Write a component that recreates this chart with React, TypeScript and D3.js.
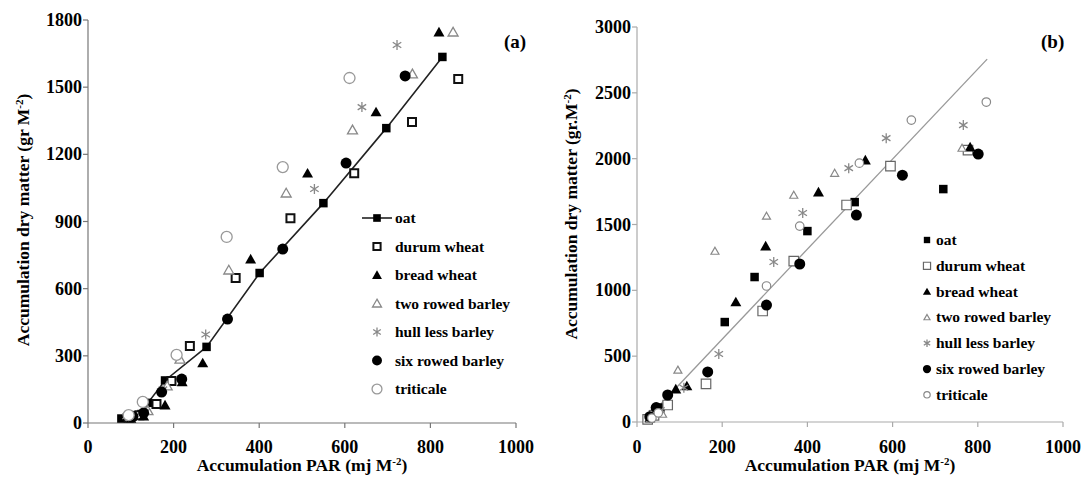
import React from 'react';
import * as d3 from 'd3';

// tick values
const xTicks = [0, 200, 400, 600, 800, 1000];
const yTicksA = [0, 300, 600, 900, 1200, 1500, 1800];
const yTicksB = [0, 500, 1000, 1500, 2000, 2500, 3000];

const speciesNames = ['oat', 'durum wheat', 'bread wheat', 'two rowed barley', 'hull less barley', 'six rowed barley', 'triticale'];

type Pt = [number, number];

// panel (a): [PAR, dry matter]
const oatA: Pt[] = [[78, 20], [100, 25], [125, 40], [140, 90], [180, 190], [277, 340], [401, 670], [550, 982], [697, 1317], [828, 1635]];
const durumA: Pt[] = [[95, 25], [120, 35], [160, 85], [195, 188], [238, 344], [345, 648], [473, 915], [622, 1116], [757, 1344], [865, 1536]];
const breadA: Pt[] = [[100, 20], [130, 30], [180, 80], [220, 183], [268, 268], [380, 732], [513, 1116], [673, 1389], [820, 1746]];
const twoRowA: Pt[] = [[100, 30], [140, 55], [185, 165], [215, 285], [329, 683], [463, 1027], [618, 1309], [758, 1559], [853, 1746]];
const hullLessA: Pt[] = [[90, 30], [135, 50], [175, 150], [275, 395], [529, 1045], [640, 1411], [722, 1688]];
const sixRowA: Pt[] = [[105, 30], [130, 45], [172, 138], [219, 196], [326, 464], [455, 777], [603, 1161], [741, 1550]];
const triticaleA: Pt[] = [[95, 35], [128, 94], [207, 304], [324, 831], [455, 1143], [611, 1541]];

// panel (b)
const oatB: Pt[] = [[25, 25], [40, 60], [55, 110], [206, 759], [276, 1101], [400, 1450], [511, 1670], [719, 1769]];
const durumB: Pt[] = [[25, 20], [40, 50], [72, 129], [162, 289], [295, 843], [368, 1222], [492, 1648], [595, 1944], [777, 2065]];
const breadB: Pt[] = [[30, 30], [50, 80], [91, 250], [117, 273], [232, 911], [302, 1336], [426, 1746], [536, 1989], [782, 2088]];
const twoRowB: Pt[] = [[30, 20], [60, 60], [96, 395], [183, 1298], [304, 1564], [368, 1723], [464, 1890], [763, 2080]];
const hullLessB: Pt[] = [[35, 40], [55, 90], [110, 260], [192, 516], [321, 1215], [389, 1587], [497, 1928], [585, 2156], [766, 2255]];
const sixRowB: Pt[] = [[30, 40], [45, 110], [72, 205], [166, 380], [304, 888], [382, 1200], [515, 1572], [623, 1875], [801, 2035]];
const triticaleB: Pt[] = [[35, 30], [50, 70], [304, 1033], [382, 1488], [522, 1966], [644, 2293], [820, 2430]];
const trendB: Pt[] = [[16, 0], [822, 2756]];

type Style = { shape: string; fill: string; stroke: string; sw: number; size: number };

const stylesA: Style[] = [
  { shape: 'square', fill: '#000', stroke: 'none', sw: 0, size: 8.5 },
  { shape: 'square', fill: '#fff', stroke: '#111', sw: 2, size: 8 },
  { shape: 'triangle', fill: '#000', stroke: 'none', sw: 0, size: 11 },
  { shape: 'triangle', fill: '#fff', stroke: '#888', sw: 1.3, size: 10 },
  { shape: 'star', fill: 'none', stroke: '#888', sw: 1.3, size: 10 },
  { shape: 'circle', fill: '#000', stroke: 'none', sw: 0, size: 11 },
  { shape: 'circle', fill: '#fff', stroke: '#999', sw: 1.3, size: 11 },
];
const stylesB: Style[] = [
  { shape: 'square', fill: '#000', stroke: 'none', sw: 0, size: 8.5 },
  { shape: 'square', fill: '#fff', stroke: '#666', sw: 1.2, size: 9.5 },
  { shape: 'triangle', fill: '#000', stroke: 'none', sw: 0, size: 11 },
  { shape: 'triangle', fill: '#fff', stroke: '#888', sw: 1.2, size: 8 },
  { shape: 'star', fill: 'none', stroke: '#888', sw: 1.3, size: 10 },
  { shape: 'circle', fill: '#000', stroke: 'none', sw: 0, size: 11 },
  { shape: 'circle', fill: '#fff', stroke: '#888', sw: 1.2, size: 8.5 },
];

const FONT = '"Liberation Serif", "Times New Roman", serif';

function Marker({ x, y, st, scale = 1 }: { x: number; y: number; st: Style; scale?: number }) {
  const s = st.size * scale;
  const h = s / 2;
  if (st.shape === 'circle') {
    return <circle cx={x} cy={y} r={h} fill={st.fill} stroke={st.stroke} strokeWidth={st.sw} />;
  }
  let d = '';
  if (st.shape === 'square') d = `M${x - h},${y - h}h${s}v${s}h${-s}Z`;
  if (st.shape === 'triangle') {
    const th = s * 0.87;
    d = `M${x},${y - th * 0.55}L${x + h},${y + th * 0.45}L${x - h},${y + th * 0.45}Z`;
  }
  if (st.shape === 'star') {
    d = `M${x},${y - h}V${y + h}M${x - h * 0.85},${y - h * 0.55}L${x + h * 0.85},${y + h * 0.55}M${x - h * 0.85},${y + h * 0.55}L${x + h * 0.85},${y - h * 0.55}`;
  }
  return <path d={d} fill={st.fill} stroke={st.stroke} strokeWidth={st.sw} />;
}

type PanelProps = {
  x0: number; x1: number; y0: number; y1: number; yMax: number; yTicks: number[];
  series: Pt[][]; styles: Style[]; axisColor: string; label: string; labelX: number;
  yTitle: string; yTitleX: number; yTitleY: number;
  legX: number; legTextX: number; legY: number; legStep: number; legScale: number; legFont: number;
};

function Panel(p: PanelProps) {
  const x = d3.scaleLinear().domain([0, 1000]).range([p.x0, p.x1]);
  const y = d3.scaleLinear().domain([0, p.yMax]).range([p.y0, p.y1]);
  const line = d3.line<Pt>().x(d => x(d[0])).y(d => y(d[1]));
  const xMid = (p.x0 + p.x1) / 2;
  return (
    <g fontFamily={FONT} fontWeight="bold">
      {/* axes */}
      <line x1={p.x0} x2={p.x0} y1={p.y1} y2={p.y0} stroke={p.axisColor} strokeWidth={1.2} />
      <line x1={p.x0} x2={p.x1} y1={p.y0} y2={p.y0} stroke={p.axisColor} strokeWidth={1.2} />
      {p.yTicks.map(t => (
        <g key={'y' + t}>
          <line x1={p.x0 - 5} x2={p.x0} y1={y(t)} y2={y(t)} stroke={p.axisColor} strokeWidth={1.2} />
          <text x={p.x0 - 6} y={y(t) + 6} textAnchor="end" fontSize={18}>{t}</text>
        </g>
      ))}
      {xTicks.map(t => (
        <g key={'x' + t}>
          <line x1={x(t)} x2={x(t)} y1={p.y0} y2={p.y0 + 5} stroke={p.axisColor} strokeWidth={1.2} />
          <text x={x(t)} y={453} textAnchor="middle" fontSize={18}>{t}</text>
        </g>
      ))}
      <text x={xMid} y={471} textAnchor="middle" fontSize={17.5}>
        Accumulation PAR (mj M<tspan dy={-6} fontSize={11}>-2</tspan><tspan dy={6}>)</tspan>
      </text>
      <text transform={`translate(${p.yTitleX},${p.yTitleY}) rotate(-90)`} textAnchor="middle" fontSize={17.5}>
        {p.yTitle}<tspan dy={-6} fontSize={11}>-2</tspan><tspan dy={6}>)</tspan>
      </text>
      <text x={p.labelX} y={48} fontSize={19}>{p.label}</text>

      {p.series === seriesB && (
        <path d={line(trendB) || ''} fill="none" stroke="#999" strokeWidth={1.3} />
      )}
      {p.series === seriesA && (
        <path d={line(oatA) || ''} fill="none" stroke="#222" strokeWidth={1.6} />
      )}
      {p.series.map((s, i) => (
        <g key={'s' + i}>
          {s.map((d, j) => <Marker key={j} x={x(d[0])} y={y(d[1])} st={p.styles[i]} />)}
        </g>
      ))}

      {/* legend */}
      {speciesNames.map((n, i) => {
        const ly = p.legY + i * p.legStep;
        return (
          <g key={'l' + i}>
            {i === 0 && p.series === seriesA && (
              <line x1={p.legX - 15} x2={p.legX + 15} y1={ly} y2={ly} stroke="#222" strokeWidth={1.6} />
            )}
            <Marker x={p.legX} y={ly} st={p.styles[i]} scale={p.legScale} />
            <text x={p.legTextX} y={ly + 5} fontSize={p.legFont}>{n}</text>
          </g>
        );
      })}
    </g>
  );
}

const seriesA = [oatA, durumA, breadA, twoRowA, hullLessA, sixRowA, triticaleA];
const seriesB = [oatB, durumB, breadB, twoRowB, hullLessB, sixRowB, triticaleB];

export default function App() {
  return (
    <svg width={1083} height={477} style={{ position: 'absolute', left: 0, top: 0, background: '#fff' }}>
      <rect width={1083} height={477} fill="#fff" />
      <Panel x0={88} x1={516} y0={423} y1={20} yMax={1800} yTicks={yTicksA}
        series={seriesA} styles={stylesA} axisColor="#777" label="(a)" labelX={504}
        yTitle="Accumulation dry matter (gr M" yTitleX={29} yTitleY={220}
        legX={377} legTextX={395} legY={218} legStep={28.5} legScale={0.9} legFont={15.5} />
      <Panel x0={637} x1={1063} y0={422} y1={27} yMax={3000} yTicks={yTicksB}
        series={seriesB} styles={stylesB} axisColor="#aaa" label="(b)" labelX={1041}
        yTitle="Accumulation dry matter (gr.M" yTitleX={577} yTitleY={214}
        legX={927} legTextX={936} legY={240} legStep={25.8} legScale={0.75} legFont={15.5} />
    </svg>
  );
}
